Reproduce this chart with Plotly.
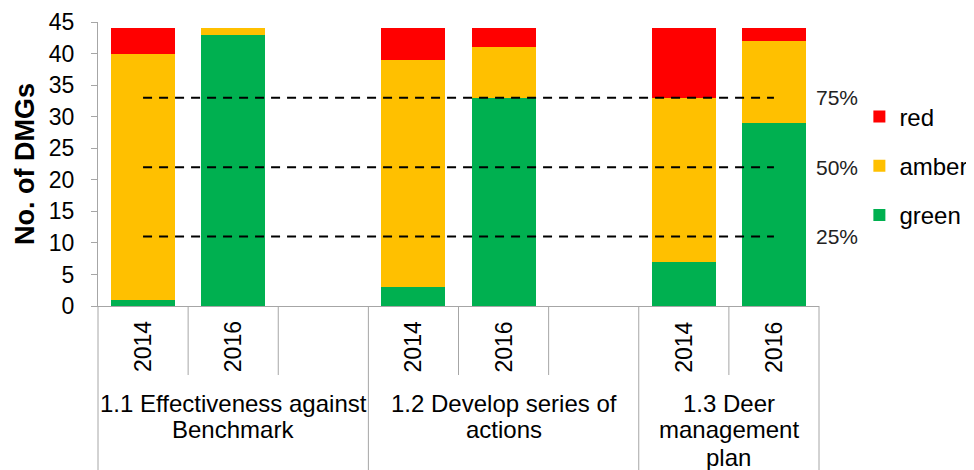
import plotly.graph_objects as go

# slots along the x axis (two blank spacer slots between the groups)
slots = ["1.1 2014", "1.1 2016", "gap1", "1.2 2014", "1.2 2016", "gap2", "1.3 2014", "1.3 2016"]
years = ["2014", "2016", "", "2014", "2016", "", "2014", "2016"]
groups = [["1.1 Effectiveness against", "Benchmark"],
          ["1.2 Develop series of", "actions"],
          ["1.3 Deer", "management", "plan"]]
group_span = [(0, 3), (3, 6), (6, 8)]

green = [1, 43, None, 3, 33, None, 7, 29]
amber = [39, 1, None, 36, 8, None, 26, 13]
red = [4, 0, None, 5, 3, None, 11, 2]

total = 44
pct = [0.75, 0.50, 0.25]
pct_labels = ["75%", "50%", "25%"]

FONT = "Arial, Liberation Sans, sans-serif"
n = len(slots)
ph = 284  # plot height in px, used to place things under the axis

fig = go.Figure()
for name, vals, col, rank in [("green", green, "#00B050", 3), ("amber", amber, "#FFC000", 2),
                              ("red", red, "#FF0000", 1)]:
    fig.add_trace(go.Bar(x=slots, y=vals, name=name, marker_color=col,
                         marker_line_width=0, legendgroup=name, legendrank=rank))

# dashed reference lines at 25/50/75 % of the groups
for p in pct:
    fig.add_trace(go.Scatter(x=[slots[0], slots[-1]], y=[p * total] * 2, mode="lines",
                             line=dict(color="black", width=2, dash="9px,7px"),
                             showlegend=False, hoverinfo="skip"))

for p, lab in zip(pct, pct_labels):
    fig.add_annotation(x=1.025, y=p * total, xref="paper", yref="y", text=lab,
                       showarrow=False, font=dict(size=21, color="#222"), xanchor="center")

# year labels
for s, yr in zip(slots, years):
    if yr:
        fig.add_annotation(x=s, y=-41 / ph, xref="x", yref="paper", text=yr, textangle=-90,
                           showarrow=False, yanchor="middle", font=dict(size=23, color="black"))

# group labels, one annotation per line to keep the tight line spacing
for lines, (a, b) in zip(groups, group_span):
    for k, txt in enumerate(lines):
        fig.add_annotation(x=(a + b) / 2 / n, y=-(97 + 27 * k) / ph, xref="paper", yref="paper",
                           text=txt, showarrow=False, xanchor="center", yanchor="middle",
                           font=dict(size=24, color="black"))

# divider lines below the axis
edges = set()
for a, b in group_span:
    edges.update([a, b])
for i in range(n + 1):
    bottom = -170 / ph if i in edges else -69 / ph
    fig.add_shape(type="line", xref="paper", yref="paper", x0=i / n, x1=i / n, y0=0, y1=bottom,
                  line=dict(color="#a6a6a6", width=1))

# page has an 8px body margin, so the figure is drawn 8px smaller
fig.update_layout(
    barmode="stack", bargap=0.29,
    width=966, height=462,
    margin=dict(l=90, r=155, t=14, b=164, autoexpand=False),
    plot_bgcolor="white", paper_bgcolor="white",
    font=dict(family=FONT, size=22, color="black"),
    legend=dict(x=1.056, y=0.745, xanchor="left", yanchor="top", traceorder="grouped",
                tracegroupgap=15, font=dict(size=24), itemwidth=30, borderwidth=0),
    showlegend=True,
)
fig.update_xaxes(showticklabels=False, showline=True, linecolor="#a6a6a6", linewidth=1,
                 range=[-0.5, n - 0.5], fixedrange=True, automargin=False)
fig.update_yaxes(range=[0, 45], dtick=5, showgrid=False, zeroline=False, showline=True,
                 linecolor="#a6a6a6", linewidth=1, ticks="outside", ticklen=6, tickcolor="#a6a6a6",
                 tickfont=dict(size=23), ticklabelstandoff=12, automargin=False,
                 ticklabeloverflow="allow",
                 title=dict(text="<b>No. of DMGs</b>", font=dict(size=27), standoff=6))

fig.write_html("out.html")
